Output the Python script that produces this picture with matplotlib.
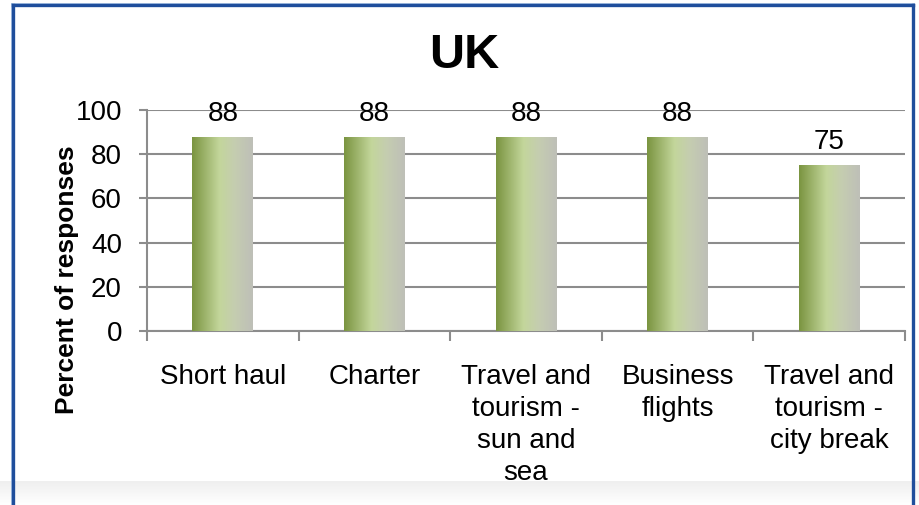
import numpy as np
import matplotlib
matplotlib.use("Agg")
import matplotlib.pyplot as plt
from matplotlib.colors import LinearSegmentedColormap
from matplotlib.lines import Line2D

plt.rcParams['font.family'] = ['Liberation Sans', 'DejaVu Sans']

# Data
categories = ["Short haul", "Charter", "Travel and\ntourism -\nsun and\nsea",
              "Business\nflights", "Travel and\ntourism -\ncity break"]
values = [88, 88, 88, 88, 75]
title = "UK"
ylabel = "Percent of responses"
yticks = [0, 20, 40, 60, 80, 100]

W, H = 920, 505
fig = plt.figure(figsize=(W / 100, H / 100), dpi=100)
fig.patch.set_facecolor("white")

# Light grey band along the bottom edge
band = fig.add_axes([0, 0, 1, 24 / H], zorder=-5)
band.imshow(np.linspace(1, 0, 50).reshape(-1, 1), aspect="auto", origin="upper",
            cmap=LinearSegmentedColormap.from_list("band", ["#ffffff", "#efefef"]),
            extent=[0, 1, 0, 1])
band.set_axis_off()

# Chart frame
def fx(x): return x / W
def fy(y): return 1 - y / H
for off, col, lw in [(-1.5, "#9dbbe0", 1.2), (0, "#1f4e9c", 2.4)]:
    fig.add_artist(Line2D([fx(13 + off), fx(13 + off)], [0, fy(5 + off)], color=col, lw=lw))
    fig.add_artist(Line2D([fx(13 + off), fx(913 - off)], [fy(5 + off), fy(5 + off)], color=col, lw=lw))
    fig.add_artist(Line2D([fx(913 - off), fx(913 - off)], [fy(5 + off), 0], color=col, lw=lw))

ax = fig.add_axes([147 / W, 1 - 331 / H, 758 / W, 221 / H])
ax.set_facecolor("none")

x = np.arange(len(categories))
bars = ax.bar(x, values, width=0.4, color="none", edgecolor="none", zorder=3)

grad = LinearSegmentedColormap.from_list(
    "bar", [(0.0, "#7a9440"), (0.45, "#c3d69b"), (0.7, "#c5cdb0"), (1.0, "#bebfb8")])
gimg = np.linspace(0, 1, 256).reshape(1, -1)
for b in bars:
    x0, w, h = b.get_x(), b.get_width(), b.get_height()
    im = ax.imshow(gimg, cmap=grad, aspect="auto", extent=[x0, x0 + w, 0, h],
                   zorder=3, interpolation="bilinear")
    im.set_clip_path(b)

for xi, v in zip(x, values):
    ax.annotate(f"{v}", (xi, v), xytext=(0, 11.5), textcoords="offset points",
                ha="center", va="baseline", fontsize=20, color="black", zorder=5)

ax.set_xlim(-0.5, len(categories) - 0.5)
ax.set_ylim(0, 100)
ax.set_yticks(yticks)
ax.set_yticklabels([str(t) for t in yticks], fontsize=20)
ax.yaxis.grid(True, color="#8c8c8c", lw=1.5, zorder=0)
ax.set_axisbelow(True)
ax.tick_params(axis="y", length=6, width=1.5, color="#8c8c8c", pad=12)

ax.set_xticks(x)
ax.set_xticklabels(categories, fontsize=20, linespacing=1.3, va="top")
ax.set_xticks(np.arange(len(categories) + 1) - 0.5, minor=True)
ax.tick_params(axis="x", which="major", length=0, pad=24)
ax.tick_params(axis="x", which="minor", length=7, width=1.5, color="#8c8c8c")

for s in ["top", "right"]:
    ax.spines[s].set_visible(False)
for s in ["left", "bottom"]:
    ax.spines[s].set_color("#8c8c8c")
    ax.spines[s].set_linewidth(1.5)

fig.text(464 / W, 1 - 56 / H, title, ha="center", va="center",
         fontsize=35, fontweight="bold")
fig.text(67 / W, 1 - 280 / H, ylabel, ha="center", va="center",
         rotation=90, fontsize=19, fontweight="bold")

fig.savefig("out.png", dpi=100)
